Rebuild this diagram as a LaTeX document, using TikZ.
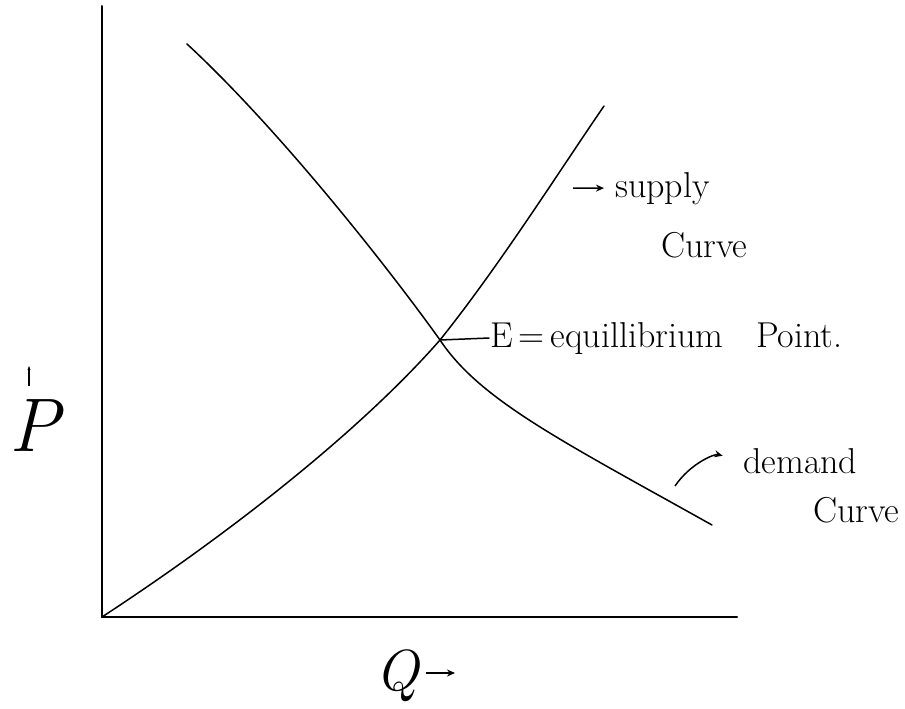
\documentclass[tikz,border=0pt]{standalone}
\usepackage{amsmath}
\usepackage{fontspec}
\usepackage{tikz}
\usetikzlibrary{arrows.meta,calc,positioning}

\begin{document}
\begin{tikzpicture}[
  x=1pt, y=-1pt,
  axis/.style={line width=2pt, line cap=round},
  curve/.style={line width=1.5pt, line cap=round},
  note/.style={font=\fontsize{36}{40}\selectfont, inner sep=1pt, anchor=base west},
  axlabel/.style={font=\itshape, inner sep=1pt, anchor=base west},
  arrow/.style={-{Stealth[length=8pt,width=7pt]}, line width=1.5pt}
]
\useasboundingbox (0,0) rectangle (905,709);

\coordinate (O)    at (102,617);
\coordinate (ytop) at (102,6);
\coordinate (xend) at (737,617);
\coordinate (E)    at (440,340);

\draw[axis] (ytop) -- (O) -- (xend);

% supply and demand
\draw[curve] (O) .. controls (250,520) and (370,420) .. (E)
  .. controls (500,265) and (560,170) .. (604,106);
\draw[curve] (187,44) .. controls (280,130) and (390,270) .. (E)
  .. controls (480,400) and (560,440) .. (712,525);

\node[note] (eq) at (489,347) {E\,=\,equillibrium\ \ \ Point.};
\draw[curve] (E) -- (eq.west);

\coordinate (sa) at (573,188);
\node[note] (sup) at (614,197) {supply};
\node[note] (supc) at (660,257) {Curve};
\draw[arrow, shorten >=10pt] (sa) -- (sup.west);

\coordinate (da) at (675,486);
\node[note] (dem) at (742,473) {demand};
\node[note] (demc) at (812,522) {Curve};
\draw[arrow, shorten >=20pt] (da) to[bend left=35] (dem.west);

% axis labels
\node[axlabel, font=\fontsize{76}{80}\selectfont\itshape] (plab) at (8,451) {P};
\coordinate (pt1) at (29,386);
\coordinate (pt2) at (29,366);
\draw[-{Stealth[length=4pt]}, line width=1.3pt] (pt1) -- (pt2);

\node[axlabel, font=\fontsize{58}{62}\selectfont\itshape] (qlab) at (374,690) {Q};
\coordinate (qa) at (455,673);
\draw[arrow, shorten <=6pt] (qlab.east |- qa) -- (qa);

\end{tikzpicture}
\end{document}
